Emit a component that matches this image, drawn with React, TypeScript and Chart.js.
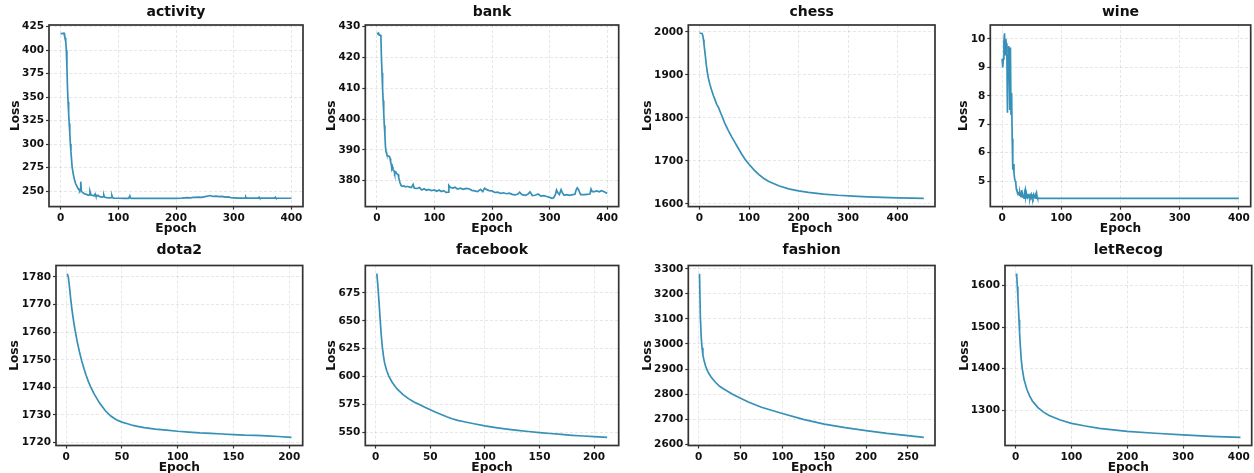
import { useEffect, useRef } from "react";
import { Chart, registerables } from "chart.js";

Chart.register(...registerables);

// ---------------- DATA ----------------
const activityEpoch = [0, 2, 4, 6, 7, 8, 9, 10, 11, 12, 13, 14, 15, 16, 17, 18, 19, 20, 22, 24, 26, 28, 30, 32, 33, 34, 35, 36, 38, 40, 42, 45, 48, 50, 51, 53, 55, 58, 60, 61, 63, 65, 68, 72, 74, 75, 76, 80, 85, 88, 89, 90, 92, 100, 110, 118, 120, 121, 123, 160, 200, 210, 220, 225, 230, 240, 245, 250, 255, 258, 262, 265, 270, 275, 280, 285, 290, 295, 300, 310, 320, 321, 322, 343, 344, 345, 371, 372, 373, 390, 400];
const activityLoss = [417.5, 417.5, 417.8, 418, 415, 413, 410, 400, 383, 360, 345, 333, 322, 312, 300, 292, 284, 276, 268, 262.5, 258, 255.5, 253, 251.5, 250.5, 252, 260, 250, 248.5, 247.5, 247, 246.5, 245.5, 246, 249.5, 245.5, 245.5, 244.8, 246.8, 245, 244.5, 245.5, 244, 243.5, 244, 245.5, 243.5, 243, 242.8, 243, 245, 243, 242.5, 242.3, 242.2, 242.2, 244.8, 242.5, 242.2, 242.2, 242.2, 242.5, 243, 242.8, 243.3, 243.5, 243.2, 244, 244.5, 245.2, 244.5, 244.2, 244.5, 244, 244.3, 243.5, 243.8, 243, 242.8, 242.5, 242.5, 243.6, 242.5, 242.4, 243.4, 242.5, 242.4, 243.3, 242.5, 242.3, 242.3];

const bankEpoch = [0, 2, 3, 4, 6, 7, 8, 9, 10, 11, 12, 13, 14, 15, 16, 17, 18, 20, 22, 23, 24, 25, 26, 27, 28, 30, 31, 33, 35, 37, 38, 40, 42, 44, 47, 50, 53, 56, 60, 63, 65, 70, 74, 78, 82, 86, 90, 95, 100, 104, 108, 112, 116, 120, 124, 125, 128, 132, 136, 140, 145, 150, 155, 160, 165, 170, 175, 180, 184, 187, 190, 195, 200, 205, 210, 215, 220, 225, 230, 235, 240, 245, 248, 252, 258, 262, 266, 270, 275, 280, 285, 290, 295, 300, 304, 307, 310, 312, 314, 317, 320, 322, 325, 330, 335, 340, 344, 346, 348, 350, 352, 354, 360, 365, 370, 372, 374, 378, 382, 386, 390, 394, 397, 400];
const bankLoss = [427.8, 427.6, 427.8, 427.2, 427.2, 427.3, 420, 415, 410, 406, 402, 398, 395, 391, 389.5, 388.8, 388.2, 388, 387.8, 387.2, 386, 385.5, 384, 384.5, 383.5, 383.2, 382.3, 382.8, 382.2, 382, 381, 379.5, 378.5, 378.2, 378.3, 378, 378.2, 378, 377.8, 378.8, 377.6, 377.5, 377.8, 377, 377.4, 376.9, 377.2, 376.8, 377, 376.6, 377, 376.5, 376.8, 376.2, 376.3, 378.5, 377.8, 377.6, 377.9, 377.3, 377.6, 377.2, 377.5, 377.4, 376.9, 376.7, 376.5, 377.2, 376.5, 377.6, 377.2, 376.8, 376.7, 376.2, 376.3, 375.9, 376.1, 375.8, 376, 375.6, 375.4, 375.7, 376.3, 375.5, 375.3, 375.6, 376.4, 375.2, 375.3, 375.7, 375, 375.2, 374.9, 374.6, 374.3, 374.5, 375.5, 377, 376.2, 375.5, 377.1, 376.2, 375.3, 375.5, 375.3, 375.5, 375.6, 377, 377.7, 377.2, 376.3, 375.5, 375.5, 375.6, 375.7, 377.3, 376.5, 376.5, 376.7, 376.4, 376.8, 376.5, 376.2, 375.9];

const chessEpoch = [0, 3, 5, 7, 8, 9, 10, 12, 14, 16, 18, 21, 24, 28, 31, 35, 38, 44, 51, 58, 65, 72, 78, 85, 92, 100, 110, 120, 130, 140, 160, 180, 200, 220, 250, 280, 310, 340, 370, 400, 430, 453];
const chessLoss = [1997, 1997, 1996.5, 1990, 1982, 1972, 1962, 1942, 1921, 1905, 1892, 1878, 1866, 1852, 1843, 1831, 1825, 1808, 1788, 1771, 1756, 1742, 1730, 1716, 1704, 1692, 1679, 1668, 1659, 1652, 1642, 1635, 1630, 1626.5, 1622.8, 1620, 1618, 1616.2, 1615, 1614, 1613.2, 1612.8];

const wineEpoch = [0, 1, 2, 3, 4, 5, 6, 7, 8, 9, 10, 11, 12, 13, 14, 15, 16, 17, 18, 19, 20, 21, 22, 23, 24, 25, 26, 27, 28, 29, 30, 31, 32, 33, 34, 35, 36, 37, 38, 39, 40, 41, 42, 43, 44, 45, 46, 47, 48, 49, 50, 51, 52, 53, 54, 55, 56, 57, 58, 59, 60, 100, 200, 300, 400];
const wineLoss = [9.3, 9.0, 9.3, 9.9, 10.2, 9.45, 10.0, 9.85, 9.5, 7.4, 9.4, 9.75, 9.6, 7.5, 9.7, 7.35, 8.1, 6.5, 5.4, 5.6, 5.3, 5.1, 5.0, 4.95, 4.72, 4.65, 4.6, 4.55, 4.62, 4.5, 4.58, 4.48, 4.45, 4.68, 4.45, 4.5, 4.42, 4.4, 4.62, 4.7, 4.45, 4.55, 4.42, 4.4, 4.48, 4.55, 4.42, 4.4, 4.5, 4.54, 4.42, 4.46, 4.4, 4.5, 4.42, 4.45, 4.4, 4.55, 4.6, 4.45, 4.39, 4.39, 4.39, 4.39, 4.39];

const dota2Epoch = [1, 2, 3, 4, 5, 6, 7, 8, 10, 12, 14, 16, 18, 20, 22, 25, 30, 35, 40, 45, 50, 55, 60, 65, 70, 80, 90, 100, 110, 120, 130, 140, 150, 160, 170, 180, 190, 202];
const dota2Loss = [1781.2, 1780, 1776.5, 1772.5, 1769, 1766, 1763.3, 1760.8, 1756.5, 1752.8, 1749.6, 1746.8, 1744.3, 1742.1, 1740.2, 1737.7, 1734.3, 1731.6, 1729.6, 1728.3, 1727.4, 1726.8, 1726.2, 1725.8, 1725.4, 1724.9, 1724.5, 1724.1, 1723.8, 1723.5, 1723.3, 1723.1, 1722.9, 1722.7, 1722.6, 1722.4, 1722.2, 1721.9];

const facebookEpoch = [1, 2, 3, 4, 5, 6, 7, 8, 9, 10, 12, 15, 18, 20, 25, 30, 35, 40, 45, 50, 55, 60, 65, 70, 75, 80, 90, 100, 110, 120, 130, 140, 150, 160, 170, 180, 190, 200, 212];
const facebookLoss = [692.3, 681, 667, 652, 638, 627, 619, 613, 609, 605.5, 600.5, 595, 591, 588.5, 583.8, 580.3, 577.3, 575, 572.5, 570.3, 568, 566, 564, 562.3, 560.8, 559.8, 557.8, 555.8, 554.3, 553, 551.8, 550.8, 549.8, 549, 548.2, 547.4, 546.8, 546.2, 545.6];

const fashionEpoch = [1, 2, 3, 4, 5, 6, 8, 10, 12, 15, 20, 25, 30, 40, 50, 60, 75, 100, 125, 150, 175, 200, 225, 250, 269];
const fashionLoss = [3281, 3110, 3030, 2985, 2958, 2940, 2914, 2896, 2883, 2867, 2847, 2831, 2820, 2800, 2783, 2767, 2747, 2722, 2699, 2680, 2666, 2654, 2643, 2634, 2627];

const letRecogEpoch = [1, 2, 3, 4, 5, 6, 7, 8, 10, 12, 15, 20, 25, 30, 40, 50, 60, 80, 100, 125, 150, 200, 250, 300, 350, 403];
const letRecogLoss = [1629, 1622, 1598, 1574, 1546, 1518, 1488, 1462, 1422, 1398, 1374, 1350, 1334, 1322, 1306, 1295, 1287, 1276, 1268, 1261.5, 1256, 1248.7, 1244, 1240, 1236.7, 1234.2];

const activityYTicks = [250, 275, 300, 325, 350, 375, 400, 425];
const bankYTicks = [380, 390, 400, 410, 420, 430];
const chessYTicks = [1600, 1700, 1800, 1900, 2000];
const wineYTicks = [5, 6, 7, 8, 9, 10];
const dota2YTicks = [1720, 1730, 1740, 1750, 1760, 1770, 1780];
const facebookYTicks = [550, 575, 600, 625, 650, 675];
const fashionYTicks = [2600, 2700, 2800, 2900, 3000, 3100, 3200, 3300];
const letRecogYTicks = [1300, 1400, 1500, 1600];

const xTicks400 = [0, 100, 200, 300, 400];
const xTicks200 = [0, 50, 100, 150, 200];
const xTicks250 = [0, 50, 100, 150, 200, 250];

const panelTitles = ["activity", "bank", "chess", "wine", "dota2", "facebook", "fashion", "letRecog"];
const panelEpochs = [activityEpoch, bankEpoch, chessEpoch, wineEpoch, dota2Epoch, facebookEpoch, fashionEpoch, letRecogEpoch];
const panelLosses = [activityLoss, bankLoss, chessLoss, wineLoss, dota2Loss, facebookLoss, fashionLoss, letRecogLoss];
const panelYTicks = [activityYTicks, bankYTicks, chessYTicks, wineYTicks, dota2YTicks, facebookYTicks, fashionYTicks, letRecogYTicks];
const panelXTicks = [xTicks400, xTicks400, xTicks400, xTicks400, xTicks200, xTicks200, xTicks250, xTicks400];

// ---------------- LAYOUT ----------------
const PLOT_X = [[49, 303], [365.3, 618.7], [688.3, 935], [990.3, 1250.7], [56, 302.7], [365.3, 618.7], [688.3, 935], [1005, 1251.7]];
const ROW_Y = [[25, 206.6], [265.5, 445.5]];
const LOSS_X = [15.5, 332, 648, 963.8, 14.5, 331.5, 647.8, 964.8];
const TITLE_Y = [12.3, 250.8];
const EPOCH_Y = [229.3, 468.2];

const FONT = "'DejaVu Sans', 'Liberation Sans', sans-serif";
const LINE_COLOR = "#3690B8";
const TEXT_COLOR = "#111111";
const FRAME_COLOR = "#333333";
const GRID_COLOR = "rgba(0,0,0,0.12)";

const framePlugin = {
  id: "frame",
  afterDatasetsDraw(chart: any) {
    const { ctx, chartArea: a } = chart;
    ctx.save();
    ctx.strokeStyle = FRAME_COLOR;
    ctx.lineWidth = 1.7;
    ctx.strokeRect(a.left, a.top, a.right - a.left, a.bottom - a.top);
    ctx.restore();
  },
};

function padRange(vals: number[]) {
  const lo = Math.min(...vals);
  const hi = Math.max(...vals);
  const p = (hi - lo) * 0.05;
  return [lo - p, hi + p];
}

function Panel({ idx }: { idx: number }) {
  const ref = useRef<HTMLCanvasElement | null>(null);
  const row = idx < 4 ? 0 : 1;
  const [plotL, plotR] = PLOT_X[idx];
  const [plotT, plotB] = ROW_Y[row];
  const lossX = LOSS_X[idx];
  const titleY = TITLE_Y[row];
  const epochY = EPOCH_Y[row];

  const L = Math.round(lossX - 8);
  const T = Math.round(titleY - 11);
  const R = Math.round(plotR + 4);
  const B = Math.round(epochY + 8);
  const W = R - L;
  const H = B - T;

  useEffect(() => {
    if (!ref.current) return;
    const yAxisW = plotL - L;
    const titleH = plotT - T;
    const titlePadTop = titleY - T - 7;
    const titlePadBottom = titleH - 14 - titlePadTop;
    const xAxisH = B - plotB;
    const xTitlePadBottom = B - epochY - 6;
    const yTitlePadTop = lossX - L - 6;
    const padRight = R - plotR;

    const xs = panelEpochs[idx];
    const ys = panelLosses[idx];
    const [xMin, xMax] = padRange(xs);
    const [yMin, yMax] = padRange(ys);
    const yt = panelYTicks[idx];
    const xt = panelXTicks[idx];

    const tickFont = { family: FONT, size: 10.5, weight: "bold" as const };
    const axisTitleFont = { family: FONT, size: 12.2, weight: "bold" as const, lineHeight: 1 };
    const fmt = (v: any) => String(v);

    const chart = new Chart(ref.current, {
      type: "line",
      data: {
        datasets: [
          {
            data: xs.map((x, i) => ({ x, y: ys[i] })),
            borderColor: LINE_COLOR,
            borderWidth: 1.7,
            pointRadius: 0,
            tension: 0,
            fill: false,
          },
        ],
      },
      options: {
        animation: false,
        responsive: true,
        maintainAspectRatio: false,
        layout: { padding: { left: 0, right: padRight, top: 0, bottom: 0 } },
        plugins: {
          legend: { display: false },
          tooltip: { enabled: false },
          title: {
            display: true,
            text: panelTitles[idx],
            fullSize: false,
            color: TEXT_COLOR,
            font: { family: FONT, size: 14, weight: "bold", lineHeight: 1 },
            padding: { top: titlePadTop, bottom: titlePadBottom },
          },
        },
        scales: {
          x: {
            type: "linear",
            min: xMin,
            max: xMax,
            afterFit: (s: any) => {
              s.height = xAxisH;
            },
            afterBuildTicks: (s: any) => {
              s.ticks = xt.map((v) => ({ value: v }));
            },
            ticks: { font: tickFont, color: TEXT_COLOR, padding: 2, maxRotation: 0, autoSkip: false, callback: fmt },
            grid: { color: GRID_COLOR, lineWidth: 0.8, tickLength: 3, tickColor: FRAME_COLOR, tickWidth: 1.2 },
            border: { display: false, dash: [3, 2] },
            title: { display: true, text: "Epoch", color: TEXT_COLOR, font: axisTitleFont, padding: { top: 0, bottom: xTitlePadBottom } },
          },
          y: {
            type: "linear",
            min: yMin,
            max: yMax,
            afterFit: (s: any) => {
              s.width = yAxisW;
            },
            afterBuildTicks: (s: any) => {
              s.ticks = yt.map((v) => ({ value: v }));
            },
            ticks: { font: tickFont, color: TEXT_COLOR, padding: 2, autoSkip: false, callback: fmt },
            grid: { color: GRID_COLOR, lineWidth: 0.8, tickLength: 3, tickColor: FRAME_COLOR, tickWidth: 1.2 },
            border: { display: false, dash: [3, 2] },
            title: { display: true, text: "Loss", color: TEXT_COLOR, font: axisTitleFont, padding: { top: yTitlePadTop, bottom: 0 } },
          },
        },
      },
      plugins: [framePlugin],
    } as any);
    return () => chart.destroy();
  }, [idx]);

  return (
    <div style={{ position: "absolute", left: L, top: T, width: W, height: H }}>
      <canvas ref={ref} />
    </div>
  );
}

export default function App() {
  return (
    <div
      style={{
        position: "absolute",
        left: 0,
        top: 0,
        width: 1254,
        height: 473,
        overflow: "hidden",
        background: "#ffffff",
      }}
    >
      {panelTitles.map((_, i) => (
        <Panel key={i} idx={i} />
      ))}
    </div>
  );
}
